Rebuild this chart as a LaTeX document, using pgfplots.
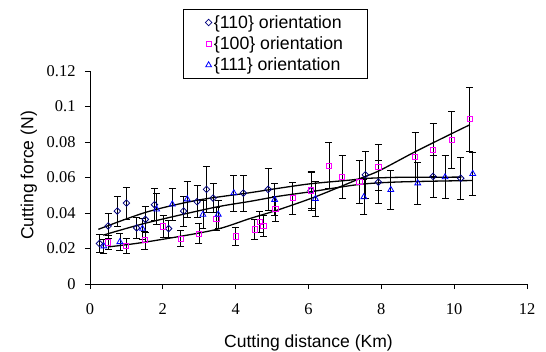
\documentclass[border=0pt]{standalone}
\usepackage{fontspec}
\setmainfont{Liberation Serif}
\newfontfamily\arial{Liberation Sans}
\usepackage{pgfplots}
\pgfplotsset{compat=1.18}
\definecolor{navyc}{RGB}{0,0,128}
\definecolor{magc}{RGB}{255,0,255}
\definecolor{bluec}{RGB}{0,0,255}
\pgfplotsset{
  ebar/.style={error bars/.cd, y dir=both, y explicit,
    error bar style={black, line width=0.7bp},
    error mark options={rotate=90, black, mark size=3.5bp, line width=0.7bp}},
}
\begin{document}
\begin{tikzpicture}
\begin{axis}[
  at={(0,0)}, anchor=south west,
  scale only axis, width=437bp, height=213bp,
  xmin=0, xmax=12, ymin=0, ymax=0.12,
  axis lines=left,
  axis line style={-, black, line width=0.8bp},
  tick align=outside, major tick length=5bp,
  tick style={black, line width=0.8bp},
  xtick={0,2,4,6,8,10,12},
  ytick={0,0.02,0.04,0.06,0.08,0.1,0.12},
  scaled y ticks=false,
  xticklabel style={font=\fontsize{16.5}{18}\selectfont, yshift=-11bp},
  yticklabel style={font=\fontsize{16.5}{18}\selectfont, xshift=-6bp,
    /pgf/number format/fixed, /pgf/number format/precision=2},
  /pgf/number format/assume math mode=true,
  xlabel={Cutting distance (Km)},
  ylabel={Cutting force (N)},
  xlabel style={font=\arial\fontsize{17.6}{20}\selectfont, at={(axis description cs:0.5,-0.297)}, anchor=base},
  ylabel style={font=\arial\fontsize{17.6}{20}\selectfont, at={(axis description cs:-0.14,0.51)}, anchor=center},
  legend style={at={(axis description cs:0.213,1.291)}, anchor=north west,
    draw=black, line width=0.6bp, font=\arial\fontsize{17.8}{20}\selectfont,
    inner xsep=22bp, inner ysep=4bp, row sep=3bp},
  legend cell align=left,
]
% {110}
\addplot[only marks, mark=square, mark size=2.3bp, mark options={rotate=45, draw=navyc, fill=none, line width=0.8bp}, ebar]
table[x=x, y=y, y error=e] {
x y e
0.26 0.0228 0.005
0.50 0.0327 0.007
0.75 0.0411 0.0085
1.00 0.0456 0.009
1.28 0.0316 0.006
1.52 0.0364 0.0075
1.77 0.0447 0.009
2.16 0.0312 0.0047
2.57 0.0411 0.0085
2.94 0.0464 0.009
3.20 0.0533 0.013
3.38 0.0484 0.0083
4.21 0.0512 0.010
4.89 0.0533 0.0116
6.07 0.0527 0.011
7.56 0.0615 0.013
7.92 0.0574 0.012
9.42 0.0606 0.012
10.18 0.0596 0.012
};
\addlegendentry{\{110\} orientation}
% {100}
\addplot[only marks, mark=square, mark size=2.65bp, mark options={draw=magc, fill=none, line width=0.8bp}, ebar]
table[x=x, y=y, y error=e] {
x y e
0.50 0.0235 0.004
0.99 0.0215 0.004
1.51 0.0247 0.005
2.01 0.0325 0.006
2.49 0.0256 0.0045
2.99 0.0284 0.0056
3.47 0.0368 0.0066
4.00 0.0269 0.005
4.52 0.0307 0.0056
4.66 0.0351 0.006
4.76 0.0327 0.006
5.09 0.0424 0.007
5.57 0.0484 0.009
6.07 0.0527 0.010
6.56 0.0667 0.013
6.92 0.0602 0.012
7.40 0.0574 0.012
7.92 0.0658 0.013
8.93 0.0716 0.014
9.42 0.0755 0.015
9.93 0.0811 0.016
10.43 0.0929 0.018
};
\addlegendentry{\{100\} orientation}
% {111}
\addplot[only marks, mark=triangle, mark size=3.4bp, mark options={draw=bluec, fill=none, line width=0.8bp}, ebar]
table[x=x, y=y, y error=e] {
x y e
0.38 0.0213 0.004
0.82 0.0237 0.005
1.44 0.0312 0.006
1.83 0.0421 0.0087
2.26 0.0449 0.009
2.67 0.0478 0.010
3.10 0.0391 0.008
3.52 0.0392 0.008
3.95 0.0512 0.010
5.07 0.0475 0.009
6.19 0.0480 0.010
7.52 0.0490 0.010
8.26 0.0531 0.011
9.00 0.0568 0.012
9.75 0.0602 0.012
10.51 0.0621 0.012
};
\addlegendentry{\{111\} orientation}
% fitted trend lines
\addplot[black, line width=1.3bp, smooth, forget plot] coordinates {
(0.23,0.0308) (1.55,0.0405) (2.92,0.0471) (4.38,0.0514) (5.2,0.054)
(6.07,0.0565) (7.12,0.0585) (7.6,0.0595) (8.5,0.0601) (10.2,0.0602)};
\addplot[black, line width=1.3bp, smooth, forget plot] coordinates {
(0.36,0.0275) (1.55,0.0344) (3.38,0.0430) (4.38,0.0465) (5.2,0.0495)
(6.07,0.0520) (7.4,0.0561) (8.5,0.0575) (10.5,0.0583)};
\addplot[black, line width=1.3bp, smooth, forget plot] coordinates {
(0.5,0.0209) (1.55,0.0237) (3.38,0.0303) (4.38,0.0368) (5.2,0.042)
(6.21,0.0493) (7.4,0.0593) (7.95,0.0639) (8.9,0.0742) (9.91,0.0845) (10.43,0.0897)};
\end{axis}
\pgfresetboundingbox
\useasboundingbox (-90bp,-68bp) rectangle (456bp,284bp);
\end{tikzpicture}
\end{document}
